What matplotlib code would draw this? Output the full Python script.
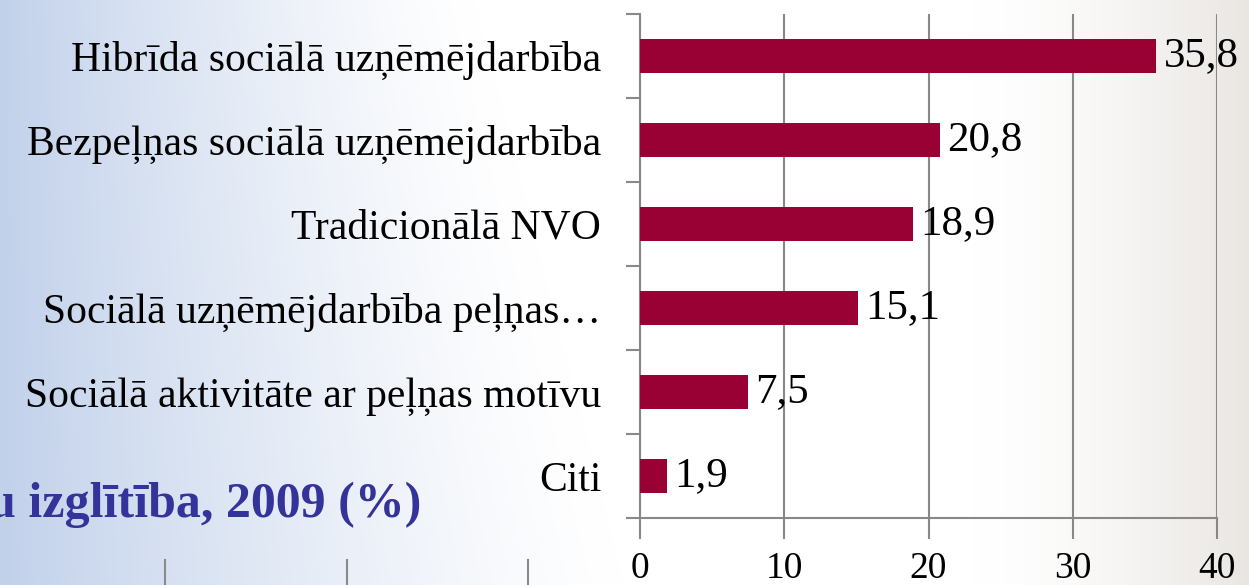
import numpy as np
import matplotlib
matplotlib.use("Agg")
import matplotlib.pyplot as plt
from matplotlib.lines import Line2D

categories = [
    "Hibrīda sociālā uzņēmējdarbība",
    "Bezpeļņas sociālā uzņēmējdarbība",
    "Tradicionālā NVO",
    "Sociālā uzņēmējdarbība peļņas…",
    "Sociālā aktivitāte ar peļņas motīvu",
    "Citi",
]
values = [35.8, 20.8, 18.9, 15.1, 7.5, 1.9]
value_labels = ["35,8", "20,8", "18,9", "15,1", "7,5", "1,9"]
x_ticks = [0, 10, 20, 30, 40]
side_title = "u izglītība, 2009 (%)"

W, H = 1249, 585
fig = plt.figure(figsize=(W / 100, H / 100), dpi=100)
plt.rcParams['font.family'] = ['Liberation Serif', 'DejaVu Serif']

# background (slide-like gradient)
bg = fig.add_axes([0, 0, 1, 1], zorder=-10)
xx = np.linspace(0, 1, W)[None, :]
yy = np.linspace(0, 1, H)[:, None]
blue = np.array([0.76, 0.82, 0.92])
white = np.array([1.0, 1.0, 1.0])
warm = np.array([0.88, 0.86, 0.84])
t_blue = np.clip(1 - xx / (0.38 + 0.12 * yy), 0, 1) ** 1.3
t_warm = np.clip((xx - 0.78) / 0.22, 0, 1) ** 1.5 * 0.7
img = (white[None, None, :] * (1 - t_blue[..., None]) + blue[None, None, :] * t_blue[..., None])
img = img * (1 - t_warm[..., None]) + warm[None, None, :] * t_warm[..., None]
bg.imshow(img, aspect='auto', extent=[0, 1, 0, 1], origin='upper')
bg.set_xlim(0, 1); bg.set_ylim(0, 1)
bg.axis('off')

# stray ticks of slide background at the bottom left
for px in [165, 347, 528]:
    fig.add_artist(Line2D([px / W, px / W], [0, 25 / H], color='#8a8a8a', lw=1.5,
                          transform=fig.transFigure))

fig.text(-12 / W, 1 - 517 / H, side_title, color='#333399', fontsize=36,
         fontweight='bold', ha='left', va='baseline')

ax = fig.add_axes([640 / W, 1 - 518 / H, (1217 - 640) / W, (518 - 14) / H])
ax.patch.set_alpha(0)
y = np.arange(len(categories))
ax.barh(y, values, height=0.4, color='#990033', zorder=3)
ax.set_ylim(len(categories) - 0.5, -0.5)
ax.set_xlim(0, 40)
ax.set_xticks(x_ticks)
ax.set_xticklabels([str(v) for v in x_ticks], fontsize=27)
ax.set_yticks(y)
ax.set_yticklabels(categories, fontsize=30)
ax.set_yticks(np.arange(len(categories) + 1) - 0.5, minor=True)
ax.tick_params(axis='y', which='major', length=0, pad=28)
ax.tick_params(axis='y', which='minor', length=10, width=1.5, color='#888888')
ax.tick_params(axis='x', which='major', length=15, width=1.5, color='#888888', pad=9)
ax.grid(axis='x', color='#888888', lw=1.5, zorder=1)
for s in ['top', 'right']:
    ax.spines[s].set_visible(False)
for s in ['left', 'bottom']:
    ax.spines[s].set_color('#888888')
    ax.spines[s].set_linewidth(1.5)

for yi, v, lab in zip(y, values, value_labels):
    ax.text(v + 0.5, yi, lab, va='center', ha='left', fontsize=31, zorder=4)

fig.savefig('out.png', dpi=100)
